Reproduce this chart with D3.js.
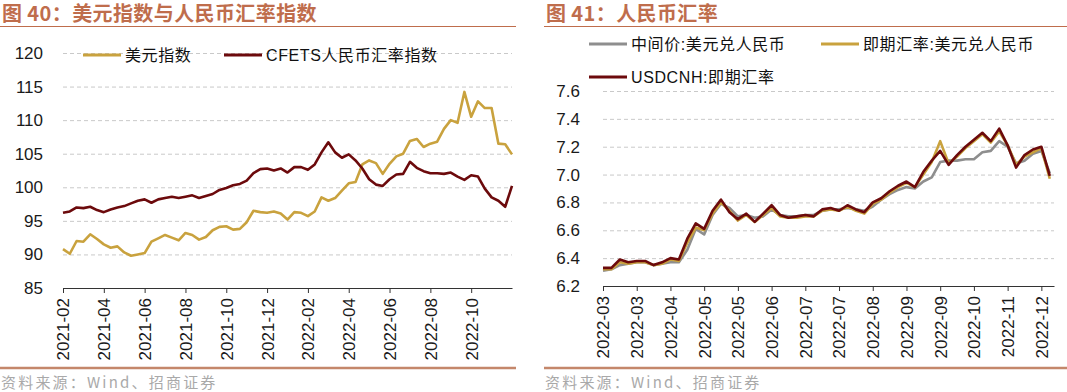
<!DOCTYPE html>
<html>
<head>
<meta charset="utf-8">
<script src="https://cdn.jsdelivr.net/npm/d3@7"></script>
<style>
body { margin: 0; background: #fff; }
svg { display: block; }
</style>
</head>
<body>
<svg id="chart" width="1067" height="392"></svg>
<script>
// 图40: one point about every 10 days, a tick label every 6 points
const months40 = ['2021-02', '2021-04', '2021-06', '2021-08', '2021-10', '2021-12', '2022-02', '2022-04', '2022-06', '2022-08', '2022-10']
const usdIndex = [
    90.8, 90.1, 92.0, 91.9, 93.0, 92.3, 91.5, 91.0, 91.2, 90.3, 89.8, 90.0, 90.2, 91.9, 92.4, 92.9, 92.5, 92.1, 93.2, 92.9, 92.2, 92.6,
    93.6, 94.1, 94.2, 93.7, 93.8, 94.8, 96.5, 96.3, 96.2, 96.4, 96.1, 95.2, 96.3, 96.2, 95.7, 96.4, 98.5, 98.0, 98.4, 99.5, 100.6,
    100.8, 103.4, 104.0, 103.6, 102.0, 103.5, 104.6, 105.0, 106.9, 107.2, 106.0, 106.5, 106.8, 108.7, 110.0, 109.6, 114.2, 110.5, 112.8, 111.8, 111.8, 106.5, 106.4, 104.9
]
const cfetsIndex = [
    96.2, 96.4, 97.0, 96.9, 97.1, 96.6, 96.3, 96.7, 97.0, 97.2, 97.6, 98.0, 98.2, 97.7, 98.2, 98.4, 98.6, 98.4, 98.6, 98.8, 98.4, 98.7,
    99.0, 99.6, 99.9, 100.3, 100.5, 101.0, 102.1, 102.7, 102.8, 102.5, 102.8, 102.2, 103.0, 103.0, 102.6, 103.4, 105.2, 106.7, 105.2, 104.4, 104.9,
    104.0, 102.8, 101.2, 100.4, 100.2, 101.2, 101.9, 102.0, 103.8, 102.9, 102.4, 102.1, 102.1, 102.0, 102.2, 101.6, 101.1, 101.8, 101.6, 99.8, 98.5, 98.0, 97.1, 100.2
]
const ticks40 = [85, 90, 95, 100, 105, 110, 115, 120]

// 图41: one point about every 4 trading days, a tick label every 4 points
const months41 = ['2022-03', '2022-03', '2022-04', '2022-05', '2022-05', '2022-06', '2022-07', '2022-07', '2022-08', '2022-09', '2022-09', '2022-10', '2022-11', '2022-12']
const cnyMid = [
    6.31, 6.32, 6.35, 6.36, 6.37, 6.37, 6.35, 6.36, 6.37, 6.37,
    6.46, 6.61, 6.57, 6.71, 6.79, 6.76, 6.70, 6.71, 6.69, 6.70,
    6.75, 6.71, 6.70, 6.70, 6.71, 6.71, 6.74, 6.75, 6.75, 6.76,
    6.75, 6.74, 6.77, 6.82, 6.86, 6.89, 6.91, 6.90, 6.95, 6.98,
    7.09, 7.10, 7.10, 7.11, 7.11, 7.16, 7.17, 7.24, 7.20, 7.08,
    7.10, 7.15, 7.17, 7.01
]
const cnySpot = [
    6.32, 6.32, 6.37, 6.36, 6.37, 6.37, 6.35, 6.36, 6.39, 6.38,
    6.51, 6.62, 6.60, 6.72, 6.80, 6.74, 6.67, 6.71, 6.66, 6.71,
    6.76, 6.70, 6.69, 6.69, 6.70, 6.70, 6.74, 6.75, 6.74, 6.77,
    6.74, 6.72, 6.79, 6.82, 6.87, 6.91, 6.94, 6.91, 7.00, 7.09,
    7.24, 7.08, 7.13, 7.19, 7.24, 7.29, 7.23, 7.31, 7.21, 7.07,
    7.13, 7.16, 7.19, 6.97
]
const usdcnh = [
    6.33, 6.33, 6.39, 6.37, 6.38, 6.38, 6.35, 6.37, 6.40, 6.39,
    6.54, 6.65, 6.61, 6.74, 6.82, 6.73, 6.68, 6.72, 6.66, 6.72,
    6.78, 6.71, 6.69, 6.70, 6.71, 6.70, 6.75, 6.76, 6.74, 6.78,
    6.75, 6.73, 6.80, 6.83, 6.88, 6.92, 6.95, 6.91, 7.02, 7.10,
    7.17, 7.07, 7.14, 7.20, 7.25, 7.30, 7.24, 7.33, 7.21, 7.05,
    7.14, 7.18, 7.20, 6.99
]
const ticks41 = [6.2, 6.4, 6.6, 6.8, 7.0, 7.2, 7.4, 7.6]

const source = '资料来源：Wind、招商证券'

// Styles
const brand = '#BF6D4C'
const gold = '#C9A23E'
const maroon = '#6C0A0C'
const grey = '#8E8E8E'
const cjk = '"Noto Sans CJK SC", sans-serif'
const mixed = '"Liberation Sans", "Noto Sans CJK SC", sans-serif'

const svg = d3.select('#chart')

// Title, rules and source note around one panel
const frame = (g, x0, x1, title) => {
    g.append('text')
        .attr('x', x0 + 2)
        .attr('y', 21)
        .style('font-family', cjk)
        .style('font-weight', 700)
        .style('font-size', '20px')
        .style('letter-spacing', '0.4px')
        .style('fill', brand)
        .text(title)
    g.append('line')
        .attr('x1', x0).attr('x2', x1)
        .attr('y1', 26.5).attr('y2', 26.5)
        .style('stroke', brand)
        .style('stroke-width', 1.2)
    g.append('line')
        .attr('x1', x0).attr('x2', x1)
        .attr('y1', 368).attr('y2', 368)
        .style('stroke', '#C4876B')
        .style('stroke-width', 2.5)
    g.append('text')
        .attr('x', x0 + 1)
        .attr('y', 388)
        .style('font-family', cjk)
        .style('font-size', '15px')
        .style('letter-spacing', '2.2px')
        .style('fill', '#A9A9A9')
        .text(source)
}

const plot = (g, { xRange, span, yRange, yDomain, yTicks, yFormat, padding, labels, every, lines, legend }) => {
    const x = d3.scaleLinear().domain([0, span]).range(xRange)
    const y = d3.scaleLinear().domain(yDomain).range(yRange)

    // grid + y labels
    const yAxis = g.append('g')
        .attr('transform', `translate(${xRange[0]},0)`)
        .call(d3.axisLeft(y)
            .tickValues(yTicks)
            .tickFormat(yFormat)
            .tickSize(-(xRange[1] - xRange[0]))
            .tickPadding(padding))
    yAxis.select('.domain').remove()
    yAxis.selectAll('.tick line')
        .style('stroke', '#C9C9C9')
        .style('stroke-dasharray', '4,3')
    yAxis.selectAll('.tick text')
        .style('font-family', mixed)
        .style('font-size', '17px')
        .style('fill', '#1A1A1A')

    // x axis with rotated labels
    const xAxis = g.append('g')
        .attr('transform', `translate(0,${yRange[0]})`)
        .call(d3.axisBottom(x)
            .tickValues(labels.map((_, i) => i * every))
            .tickFormat((_, i) => labels[i])
            .tickSize(5)
            .tickSizeOuter(0))
    xAxis.select('.domain').style('stroke', '#333')
    xAxis.selectAll('.tick line').style('stroke', '#333')
    xAxis.selectAll('.tick text')
        .attr('transform', 'rotate(-90)')
        .attr('x', -10)
        .attr('y', 0)
        .attr('dy', '0.35em')
        .style('text-anchor', 'end')
        .style('font-family', mixed)
        .style('font-size', '17px')
        .style('fill', '#1A1A1A')

    // series
    const line = d3.line()
        .x((_, i) => x(i))
        .y(d => y(d))
    g.append('g')
        .selectAll('path')
        .data(lines)
        .join('path')
        .attr('d', d => line(d.values))
        .style('fill', 'none')
        .style('stroke', d => d.color)
        .style('stroke-width', 2.6)
        .style('stroke-linejoin', 'round')

    // legend
    const items = g.append('g')
        .selectAll('g')
        .data(legend)
        .join('g')
        .attr('transform', d => `translate(${d.x},${d.y})`)
    items.append('line')
        .attr('x1', 0).attr('x2', 38)
        .style('stroke', d => d.color)
        .style('stroke-width', 3)
    items.append('text')
        .attr('x', 42)
        .attr('dy', '0.36em')
        .style('font-family', mixed)
        .style('font-size', '16px')
        .style('letter-spacing', '0.6px')
        .style('fill', '#111')
        .text(d => d.label)
}

// 图40
const left = svg.append('g')
frame(left, 0, 516, '图 40：美元指数与人民币汇率指数')
plot(left, {
    xRange: [63, 512],
    span: usdIndex.length - 1,
    yRange: [288, 53],
    yDomain: [85, 120],
    yTicks: ticks40,
    yFormat: d3.format('d'),
    padding: 20,
    labels: months40,
    every: 6,
    lines: [
        { values: usdIndex, color: gold },
        { values: cfetsIndex, color: maroon }
    ],
    legend: [
        { label: '美元指数', color: gold, x: 83, y: 55 },
        { label: 'CFETS人民币汇率指数', color: maroon, x: 224, y: 55 }
    ]
})

// 图41
const right = svg.append('g')
frame(right, 544, 1067, '图 41：人民币汇率')
plot(right, {
    xRange: [603, 1054],
    span: usdcnh.length - 0.5,
    yRange: [286, 91],
    yDomain: [6.2, 7.6],
    yTicks: ticks41,
    yFormat: d3.format('.1f'),
    padding: 23,
    labels: months41,
    every: 4,
    lines: [
        { values: cnyMid, color: grey },
        { values: cnySpot, color: gold },
        { values: usdcnh, color: maroon }
    ],
    legend: [
        { label: '中间价:美元兑人民币', color: grey, x: 589, y: 44 },
        { label: '即期汇率:美元兑人民币', color: gold, x: 821, y: 44 },
        { label: 'USDCNH:即期汇率', color: maroon, x: 589, y: 77 }
    ]
})
</script>
</body>
</html>
